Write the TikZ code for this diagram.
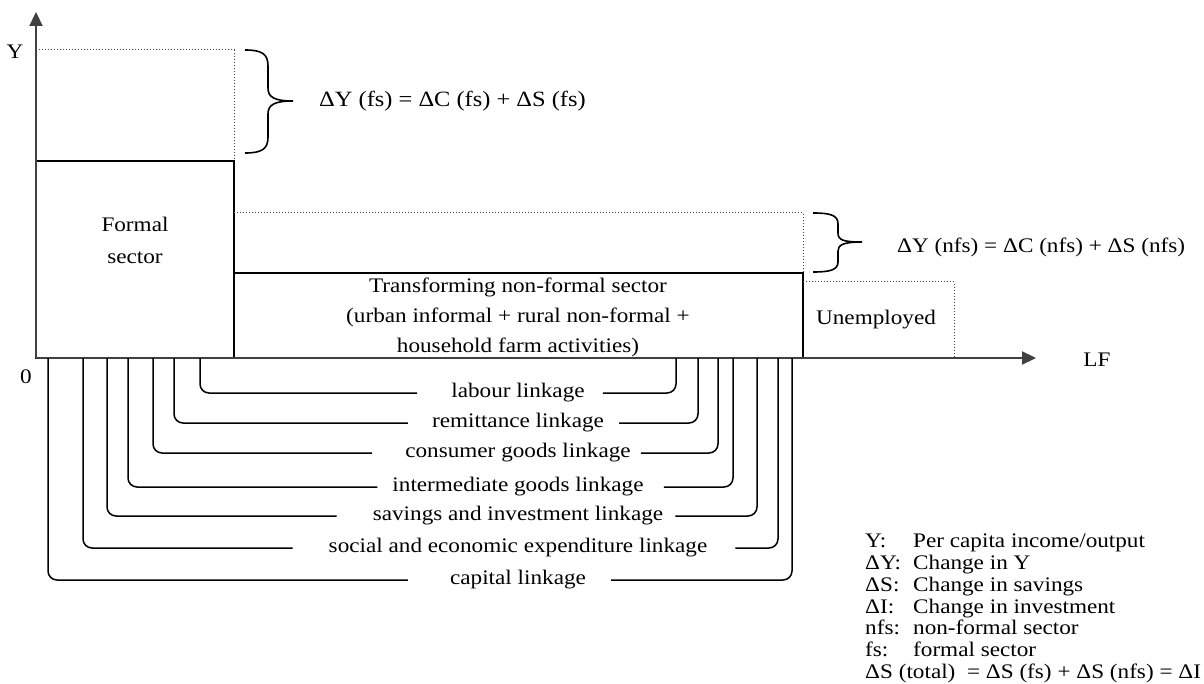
\documentclass[tikz,border=0pt]{standalone}
\usepackage{fontspec}
\setmainfont{Liberation Serif}[FakeStretch=1.12]
\usetikzlibrary{arrows.meta}

\begin{document}
\begin{tikzpicture}
  [
    x=1pt, y=-1pt,
    every node/.style={font=\fontsize{20.7}{24}\selectfont, inner sep=0pt},
    axis/.style={line width=2.2pt, black!75, -{Triangle[length=14pt, width=13pt]}},
    sector/.style={line width=1.8pt},
    potential/.style={line width=1pt, dotted, black!75},
    brace/.style={line width=1.6pt},
    link/.style={line width=1.5pt, rounded corners=9pt}
  ]
  \useasboundingbox (0,0) rectangle (1204,684);

  % sectors
  \draw[sector] (36,161) rectangle (234,358);
  \node[align=center, font=\fontsize{20.7}{32}\selectfont] (formal) at (135,240) {Formal\\sector};
  \draw[sector] (234,273) rectangle (803,358);
  \node[align=center, font=\fontsize{20.7}{30}\selectfont] (nonformal) at (518,317)
    {Transforming non-formal sector\\(urban informal + rural non-formal +\\household farm activities)};
  \draw[potential] (36,50) -| (234,161);
  \draw[potential] (234,213) -| (803,273);
  \draw[potential] (803,282) -| (954,358);
  \node (unemployed) at (876,320) {Unemployed};

  % axes
  \coordinate (origin) at (36,358);
  \draw[axis] (origin) -- (36,12);
  \draw[axis] (origin) -- (1036,358);
  \node (ylabel) at (15,52) {Y};
  \node (zero) at (26,377) {0};
  \node (lflabel) at (1097,360) {LF};

  % braces
  \draw[brace] (245,50) .. controls (262,50) and (268,54) .. (268,66) -- (268,88)
    .. controls (268,97) and (274,101) .. (293,101)
    .. controls (274,101) and (268,105) .. (268,114) -- (268,137)
    .. controls (268,149) and (262,153) .. (245,153);
  \node[anchor=west, font=\fontsize{21.8}{24}\selectfont] (dyfs) at (319,101) {ΔY (fs) = ΔC (fs) + ΔS (fs)};
  \draw[brace] (813,213) .. controls (830,213) and (838,215) .. (838,224) -- (838,233)
    .. controls (838,240) and (843,242) .. (862,242)
    .. controls (843,242) and (838,245) .. (838,251) -- (838,262)
    .. controls (838,270) and (830,272) .. (813,272);
  \node[anchor=west] (dynfs) at (897,247) {ΔY (nfs) = ΔC (nfs) + ΔS (nfs)};

  % linkages
  \node (labour) at (518,393) {labour linkage};
  \draw[link] (200,358) |- ([xshift=-34pt]labour.west);
  \draw[link] ([xshift=18pt]labour.east) -| (676,358);

  \node (remittance) at (518,423) {remittance linkage};
  \draw[link] (174,358) |- ([xshift=-24pt]remittance.west);
  \draw[link] ([xshift=15pt]remittance.east) -| (698,358);

  \node (consumer) at (518,453) {consumer goods linkage};
  \draw[link] (153,358) |- ([xshift=-33pt]consumer.west);
  \draw[link] ([xshift=10pt]consumer.east) -| (718,358);

  \node (intermediate) at (518,487) {intermediate goods linkage};
  \draw[link] (128,358) |- ([xshift=-15pt]intermediate.west);
  \draw[link] ([xshift=20pt]intermediate.east) -| (733,358);

  \node (savings) at (518,516) {savings and investment linkage};
  \draw[link] (107,358) |- ([xshift=-36pt]savings.west);
  \draw[link] ([xshift=12pt]savings.east) -| (757,358);

  \node (social) at (518,548) {social and economic expenditure linkage};
  \draw[link] (83,358) |- ([xshift=-36pt]social.west);
  \draw[link] ([xshift=28pt]social.east) -| (778,358);

  \node (capital) at (518,580) {capital linkage};
  \draw[link] (48,358) |- ([xshift=-42pt]capital.west);
  \draw[link] ([xshift=25pt]capital.east) -| (792,358);

  % legend
  \node[anchor=north west, align=left, font=\fontsize{20.7}{21.7}\selectfont] (legend) at (865,534)
    {\makebox[48pt][l]{Y:}Per capita income/output\\
     \makebox[48pt][l]{ΔY:}Change in Y\\
     \makebox[48pt][l]{ΔS:}Change in savings\\
     \makebox[48pt][l]{ΔI:}Change in investment\\
     \makebox[48pt][l]{nfs:}non-formal sector\\
     \makebox[48pt][l]{fs:}formal sector\\
     ΔS (total) \ = ΔS (fs) + ΔS (nfs) = ΔI};
\end{tikzpicture}
\end{document}
